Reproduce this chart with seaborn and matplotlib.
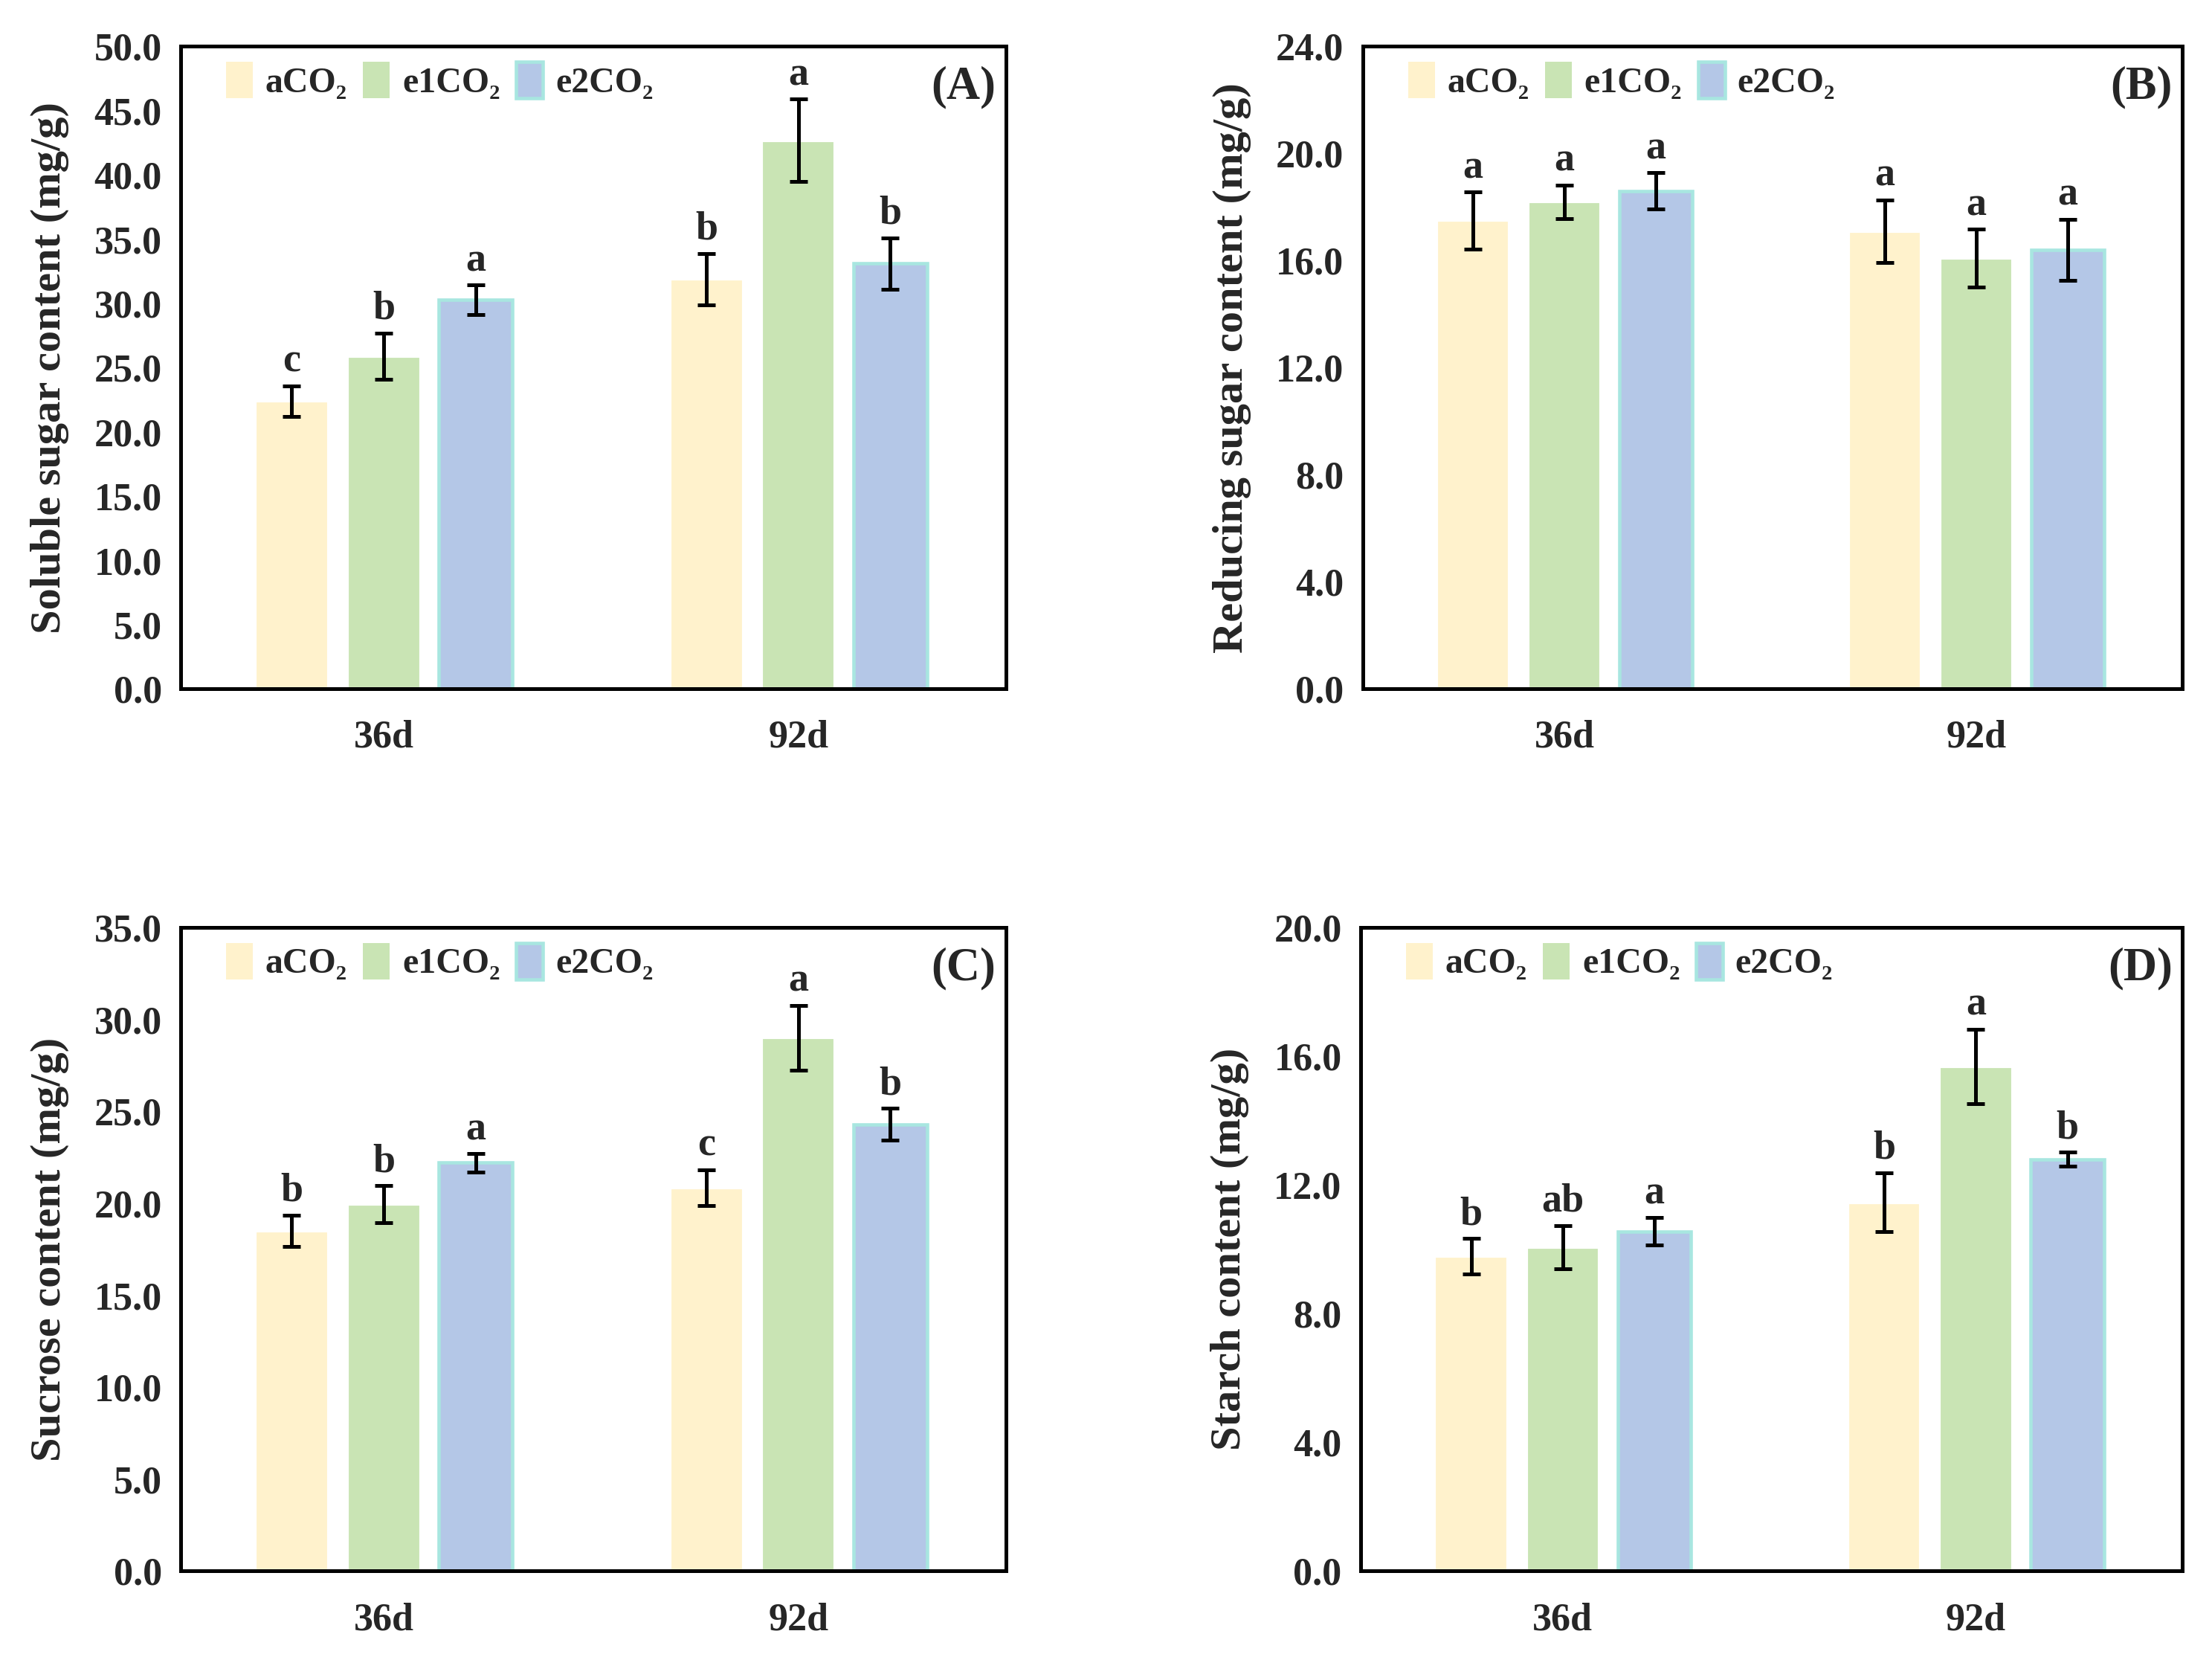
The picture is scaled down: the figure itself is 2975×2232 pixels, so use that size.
import matplotlib

matplotlib.use("Agg")
import matplotlib.pyplot as plt
import matplotlib.patches as mpatches
import pandas as pd
import seaborn as sns

DAYS = ["36d", "92d"]
TREATMENTS = ["aCO₂", "e1CO₂", "e2CO₂"]
COLORS = ["#FFF2CC", "#C9E4B4", "#B4C7E7"]
E2_EDGE = "#A8E6E0"

# means per treatment, [36d, 92d]
soluble_mean = {"aCO₂": [22.4, 31.9], "e1CO₂": [25.9, 42.7], "e2CO₂": [30.3, 33.1]}
soluble_err = {"aCO₂": [1.2, 2.0], "e1CO₂": [1.8, 3.2], "e2CO₂": [1.15, 2.0]}
soluble_letters = {"aCO₂": ["c", "b"], "e1CO₂": ["b", "a"], "e2CO₂": ["a", "b"]}

reducing_mean = {"aCO₂": [17.5, 17.1], "e1CO₂": [18.2, 16.1], "e2CO₂": [18.6, 16.4]}
reducing_err = {"aCO₂": [1.07, 1.17], "e1CO₂": [0.63, 1.08], "e2CO₂": [0.68, 1.15]}
reducing_letters = {"aCO₂": ["a", "a"], "e1CO₂": ["a", "a"], "e2CO₂": ["a", "a"]}

sucrose_mean = {"aCO₂": [18.5, 20.85], "e1CO₂": [19.95, 29.0], "e2CO₂": [22.2, 24.3]}
sucrose_err = {"aCO₂": [0.86, 0.97], "e1CO₂": [1.0, 1.76], "e2CO₂": [0.5, 0.86]}
sucrose_letters = {"aCO₂": ["b", "c"], "e1CO₂": ["b", "a"], "e2CO₂": ["a", "b"]}

starch_mean = {"aCO₂": [9.78, 11.46], "e1CO₂": [10.07, 15.68], "e2CO₂": [10.55, 12.8]}
starch_err = {"aCO₂": [0.55, 0.92], "e1CO₂": [0.67, 1.16], "e2CO₂": [0.43, 0.21]}
starch_letters = {"aCO₂": ["b", "b"], "e1CO₂": ["ab", "a"], "e2CO₂": ["a", "b"]}

PANELS = [
    ("(A)", "Soluble sugar content (mg/g)", soluble_mean, soluble_err, soluble_letters, 50, 5),
    ("(B)", "Reducing sugar content (mg/g)", reducing_mean, reducing_err, reducing_letters, 24, 4),
    ("(C)", "Sucrose content (mg/g)", sucrose_mean, sucrose_err, sucrose_letters, 35, 5),
    ("(D)", "Starch content (mg/g)", starch_mean, starch_err, starch_letters, 20, 4),
]

sns.set_style("white")
plt.rcParams["font.family"] = ["Liberation Serif", "DejaVu Serif"]
plt.rcParams["font.weight"] = "bold"
plt.rcParams["axes.labelweight"] = "bold"

fig = plt.figure(figsize=(2975 / 300, 2232 / 300), dpi=300)
fig.patch.set_facecolor("white")
boxes = [
    [0.0816, 0.585, 0.3731, 0.387],
    [0.616, 0.585, 0.3706, 0.387],
    [0.0816, 0.0536, 0.3731, 0.3877],
    [0.615, 0.0536, 0.3716, 0.3877],
]


def draw_panel(ax, tag, ylabel, means, errs, letters, ymax, step):
    rows = []
    for t in TREATMENTS:
        for d, v in zip(DAYS, means[t]):
            rows.append({"day": d, "treatment": t, "value": v})
    df = pd.DataFrame(rows)
    sns.barplot(
        data=df, x="day", y="value", hue="treatment",
        order=DAYS, hue_order=TREATMENTS, palette=COLORS,
        width=0.665, gap=0.2, errorbar=None, legend=False,
        saturation=1, ax=ax,
    )
    for i, (t, cont) in enumerate(zip(TREATMENTS, ax.containers)):
        xs = [p.get_x() + p.get_width() / 2 for p in cont.patches]
        hs = [p.get_height() for p in cont.patches]
        if i == 2:
            for p in cont.patches:
                p.set_edgecolor(E2_EDGE)
                p.set_linewidth(1.1)
        ax.errorbar(xs, hs, yerr=errs[t], fmt="none", ecolor="black",
                    elinewidth=1.2, capsize=2.8, capthick=1.2, zorder=5)
        for x, h, e, lab in zip(xs, hs, errs[t], letters[t]):
            ax.text(x, h + e + ymax * 0.008, lab, ha="center", va="bottom",
                    fontsize=13, fontweight="bold")

    ax.set_xlim(-0.49, 1.5)
    ax.set_ylim(0, ymax)
    yt = [i * step for i in range(int(ymax / step) + 1)]
    ax.set_yticks(yt)
    ax.set_yticklabels([f"{v:.1f}" for v in yt])
    ax.set_xticks([0, 1])
    ax.set_xticklabels(DAYS)
    ax.set_xticks([0.5], minor=True)
    ax.tick_params(axis="x", which="major", length=0, pad=10, labelsize=12.5)
    ax.tick_params(axis="x", which="minor", direction="in", length=6, width=1.1)
    ax.tick_params(axis="y", direction="in", length=4.5, width=1.1, pad=6, labelsize=12.5)
    ax.set_xlabel("")
    ax.set_ylabel(ylabel, fontsize=14, fontweight="bold", labelpad=8)
    for s in ax.spines.values():
        s.set_linewidth(1.2)
        s.set_color("black")
    ax.text(0.988, 0.97, tag, transform=ax.transAxes, ha="right", va="top",
            fontsize=15, fontweight="bold")

    handles = []
    for i, c in enumerate(COLORS):
        handles.append(mpatches.Patch(facecolor=c, edgecolor=E2_EDGE if i == 2 else c,
                                      linewidth=1.1 if i == 2 else 0))
    ax.legend(handles, TREATMENTS, loc="upper left", bbox_to_anchor=(0.025, 1.015),
              ncol=3, frameon=False, fontsize=11.5, handlelength=0.75, handleheight=1.2,
              handletextpad=0.35, columnspacing=0.45, borderaxespad=0.3)


for box, (tag, ylabel, means, errs, letters, ymax, step) in zip(boxes, PANELS):
    ax = fig.add_axes(box)
    draw_panel(ax, tag, ylabel, means, errs, letters, ymax, step)

fig.savefig("out.png", dpi=300, facecolor="white")
plt.close(fig)
